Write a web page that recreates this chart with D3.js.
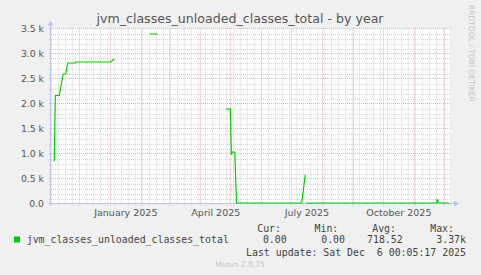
<!DOCTYPE html>
<html>
<head>
<meta charset="utf-8">
<script src="https://cdn.jsdelivr.net/npm/d3@7"></script>
<style>
  body { margin: 0; background: #f0f0f0; }
  svg { display: block; }
  text { font-family: "DejaVu Sans", sans-serif; fill: #555; }
  .mono { font-family: "DejaVu Sans Mono", monospace; fill: #444; white-space: pre; }
</style>
</head>
<body>
<div class="chart"></div>
<script>
// series: jvm_classes_unloaded_classes_total (null = no data)
let times = [
  "2024-11-05T23:00", "2024-11-06T23:00", "2024-11-10T23:00", "2024-11-12T09:00",
  "2024-11-14T23:00", "2024-11-17T09:00", "2024-11-19T09:00", "2024-11-26T16:00",
  "2024-11-27T04:00", "2025-01-01T09:00", "2025-01-04T23:00", "2025-01-06T00:00",
  "2025-02-09T16:00", "2025-02-17T09:00", "2025-02-18T00:00",
  "2025-04-26T09:00", "2025-05-01T00:00", "2025-05-02T00:00", "2025-05-03T05:00",
  "2025-05-05T10:00", "2025-05-07T05:00", "2025-07-11T09:00", "2025-07-14T23:00",
  "2025-07-15T06:00", "2025-07-15T16:00", "2025-11-23T04:00", "2025-11-23T23:00",
  "2025-11-24T23:00", "2025-12-06T00:05"
];
let values = [
  832, 2150, 2150, 2320,
  2580, 2580, 2800, 2800,
  2820, 2820, 2880, null,
  3380, 3380, null,
  1880, 1880, 966, 1020,
  1020, 0, 0, 566,
  null, 0, 0, 80,
  0, 0
];

let yTicks = [0, 500, 1000, 1500, 2000, 2500, 3000, 3500];
let yTickLabels = ["0.0", "0.5 k", "1.0 k", "1.5 k", "2.0 k", "2.5 k", "3.0 k", "3.5 k"];
let xLabelDates = ["2025-01-16T12:00", "2025-04-16T12:00", "2025-07-16T12:00", "2025-10-16T12:00"];
let xLabels = ["January 2025", "April 2025", "July 2025", "October 2025"];

let legendHeaders = ["Cur:", "Min:", "Avg:", "Max:"];
let legendValues = ["0.00", "0.00", "718.52", "3.37k"];

let svgWidth = 481;
let svgHeight = 275;

let plot = { left: 51, right: 451, top: 28.5, bottom: 203.5 };

let svg = d3.select(".chart")
  .append("svg")
  .attr("width", svgWidth)
  .attr("height", svgHeight);

svg.append("rect")
  .attr("width", svgWidth)
  .attr("height", svgHeight)
  .attr("fill", "#f0f0f0");

let parseTime = d3.timeParse("%Y-%m-%dT%H:%M");
let start = new Date(2024, 10, 2, 16);
let end = d3.timeDay.offset(start, 400);

let xScale = d3.scaleTime()
  .domain([start, end])
  .range([plot.left, plot.right]);

let yScale = d3.scaleLinear()
  .domain([0, 3500])
  .range([plot.bottom, plot.top]);

// plot area
svg.append("rect")
  .attr("x", plot.left)
  .attr("y", plot.top)
  .attr("width", plot.right - plot.left)
  .attr("height", plot.bottom - plot.top)
  .attr("fill", "#ffffff");

let gridGroup = svg.append("g");

// minor grid
let minorY = d3.range(100, 3501, 100).filter(v => v % 500 !== 0);
gridGroup.selectAll(".minor-h")
  .data(minorY)
  .enter()
  .append("line")
  .attr("x1", plot.left - 2)
  .attr("x2", plot.right)
  .attr("y1", d => Math.round(yScale(d)) + 0.5)
  .attr("y2", d => Math.round(yScale(d)) + 0.5)
  .attr("stroke", "#d6d6d6")
  .attr("stroke-dasharray", "1,1");

let weeks = d3.timeWeek.range(start, end).filter(d => d.getDate() !== 1);
gridGroup.selectAll(".minor-v")
  .data(weeks)
  .enter()
  .append("line")
  .attr("x1", d => Math.round(xScale(d)) + 0.5)
  .attr("x2", d => Math.round(xScale(d)) + 0.5)
  .attr("y1", plot.top)
  .attr("y2", plot.bottom + 2)
  .attr("stroke", "#d6d6d6")
  .attr("stroke-dasharray", "1,1");

// major grid
gridGroup.selectAll(".major-h")
  .data(yTicks)
  .enter()
  .append("line")
  .attr("x1", plot.left - 2)
  .attr("x2", plot.right)
  .attr("y1", d => Math.round(yScale(d) - 0.5) + 0.5)
  .attr("y2", d => Math.round(yScale(d) - 0.5) + 0.5)
  .attr("stroke", "#ecaeae")
  .attr("stroke-dasharray", "1,1");

let months = d3.timeMonth.range(start, end);
gridGroup.selectAll(".major-v")
  .data(months)
  .enter()
  .append("line")
  .attr("x1", d => Math.round(xScale(d)) + 0.5)
  .attr("x2", d => Math.round(xScale(d)) + 0.5)
  .attr("y1", plot.top)
  .attr("y2", plot.bottom + 3)
  .attr("stroke", "#ecaeae")
  .attr("stroke-dasharray", "1,1");

// axes
let axisColor = "#c2c2f2";
svg.append("line")
  .attr("x1", plot.left - 2)
  .attr("x2", plot.right + 4)
  .attr("y1", plot.bottom)
  .attr("y2", plot.bottom)
  .attr("stroke", axisColor);
svg.append("line")
  .attr("x1", plot.left - 0.5)
  .attr("x2", plot.left - 0.5)
  .attr("y1", plot.bottom + 2)
  .attr("y2", plot.top - 4)
  .attr("stroke", axisColor);
svg.append("path")
  .attr("d", `M${plot.left - 3.5},${plot.top - 3} L${plot.left - 0.5},${plot.top - 8} L${plot.left + 2.5},${plot.top - 3} Z`)
  .attr("fill", axisColor);
svg.append("path")
  .attr("d", `M${plot.right + 3},${plot.bottom - 3} L${plot.right + 8},${plot.bottom} L${plot.right + 3},${plot.bottom + 3} Z`)
  .attr("fill", axisColor);

// series line
let seriesData = times.map((t, i) => ({ date: parseTime(t), value: values[i] }));

let line = d3.line()
  .defined(d => d.value !== null)
  .x(d => xScale(d.date))
  .y(d => yScale(d.value) - 0.5);

svg.append("path")
  .datum(seriesData)
  .attr("d", line)
  .attr("fill", "none")
  .attr("stroke", "#00cc00")
  .attr("stroke-width", 1.2);

// y labels
svg.selectAll(".y-label")
  .data(yTicks)
  .enter()
  .append("text")
  .attr("x", 44)
  .attr("y", d => yScale(d) + 3.5)
  .attr("text-anchor", "end")
  .attr("font-size", "9.3px")
  .text((d, i) => yTickLabels[i]);

// x labels
svg.selectAll(".x-label")
  .data(xLabelDates)
  .enter()
  .append("text")
  .attr("x", d => xScale(parseTime(d)))
  .attr("y", 216)
  .attr("text-anchor", "middle")
  .attr("font-size", "9.5px")
  .text((d, i) => xLabels[i]);

// title
svg.append("text")
  .attr("x", 240)
  .attr("y", 22.5)
  .attr("text-anchor", "middle")
  .attr("font-size", "12.6px")
  .text("jvm_classes_unloaded_classes_total - by year");

// watermark
svg.append("text")
  .attr("transform", "translate(469, 5) rotate(90)")
  .attr("font-size", "7.5px")
  .style("fill", "#c4c4c4")
  .text("RRDTOOL / TOBI OETIKER");

// legend
let headerEnds = [281, 338.3, 396, 454];
let valueEnds = [286.7, 345, 402.7, 466];

svg.selectAll(".legend-header")
  .data(legendHeaders)
  .enter()
  .append("text")
  .classed("mono", true)
  .attr("x", (d, i) => headerEnds[i])
  .attr("y", 231.5)
  .attr("text-anchor", "end")
  .attr("font-size", "9.9px")
  .text(d => d);

svg.append("rect")
  .attr("x", 14)
  .attr("y", 236.5)
  .attr("width", 6)
  .attr("height", 6)
  .attr("fill", "#00cc00");

svg.append("text")
  .classed("mono", true)
  .attr("x", 26.7)
  .attr("y", 243)
  .attr("font-size", "9.9px")
  .text("jvm_classes_unloaded_classes_total");

svg.selectAll(".legend-value")
  .data(legendValues)
  .enter()
  .append("text")
  .classed("mono", true)
  .attr("x", (d, i) => valueEnds[i])
  .attr("y", 243)
  .attr("text-anchor", "end")
  .attr("font-size", "9.9px")
  .text(d => d);

svg.append("text")
  .classed("mono", true)
  .attr("x", 466)
  .attr("y", 255.5)
  .attr("text-anchor", "end")
  .attr("font-size", "9.9px")
  .text("Last update: Sat Dec  6 00:05:17 2025");

svg.append("text")
  .attr("x", 240)
  .attr("y", 267)
  .attr("text-anchor", "middle")
  .attr("font-size", "7.6px")
  .style("fill", "#c4c4c4")
  .text("Munin 2.0.75");
</script>
</body>
</html>
